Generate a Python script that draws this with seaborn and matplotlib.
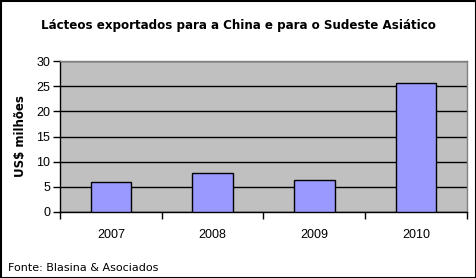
import matplotlib
matplotlib.use("Agg")
import matplotlib.pyplot as plt
import seaborn as sns
import pandas as pd
import numpy as np

years = ["2007", "2008", "2009", "2010"]
values = [6.0, 7.7, 6.3, 25.6]
yticks = [0, 5, 10, 15, 20, 25, 30]

title = "Lácteos exportados para a China e para o Sudeste Asiático"
ylabel = "US$ milhões"
source = "Fonte: Blasina & Asociados"

sns.set_style("white")
plt.rcParams['font.family'] = ['DejaVu Sans']
plt.rcParams['text.color'] = 'black'
plt.rcParams['axes.labelcolor'] = 'black'
plt.rcParams['xtick.color'] = 'black'
plt.rcParams['ytick.color'] = 'black'

df = pd.DataFrame({"year": years, "value": values})

fig = plt.figure(figsize=(4.77, 2.78), dpi=100)
ax = fig.add_axes([60/477, 1-212/278, 407/477, 151/278])
ax.set_facecolor("#c0c0c0")

sns.barplot(data=df, x="year", y="value", color="#9999ff", width=0.4,
            edgecolor="black", linewidth=1.0, saturation=1, ax=ax, zorder=3)

ax.set_ylim(0, 30)
ax.set_xlim(-0.5, 3.5)
ax.set_yticks(yticks)
ax.yaxis.grid(True, color="black", linewidth=1.0, zorder=1)
ax.set_axisbelow(True)

for s in ["top", "right"]:
    ax.spines[s].set_color("#808080")
    ax.spines[s].set_linewidth(1.0)
for s in ["left", "bottom"]:
    ax.spines[s].set_color("black")
    ax.spines[s].set_linewidth(1.0)

ax.tick_params(axis="y", direction="out", length=5, width=1, color="black",
               labelsize=9, pad=2, left=True, labelcolor="black")
ax.tick_params(axis="x", which="major", length=0, labelsize=9, pad=12,
               labelcolor="black")
ax.set_xticks(np.arange(-0.5, 4.0, 1.0), minor=True)
ax.tick_params(axis="x", which="minor", direction="out", length=5, width=1,
               color="black", bottom=True)
for lbl in ax.get_xticklabels() + ax.get_yticklabels():
    lbl.set_fontfamily("Liberation Sans")

ax.set_xlabel("")
ax.set_ylabel(ylabel, fontsize=8.5, fontweight="bold", labelpad=7, color="black")

fig.text(0.5, 1-25/278, title, ha="center", va="center", fontsize=8.6,
         fontweight="bold", color="black")
fig.text(8/477, 1-268/278, source, ha="left", va="center", fontsize=8,
         color="black")

border = plt.Rectangle((0.5/477, 0.5/278), 1-1/477, 1-1/278, transform=fig.transFigure,
                       fill=False, edgecolor="black", linewidth=1.5)
fig.patches.append(border)

fig.savefig("out.png", dpi=100)
